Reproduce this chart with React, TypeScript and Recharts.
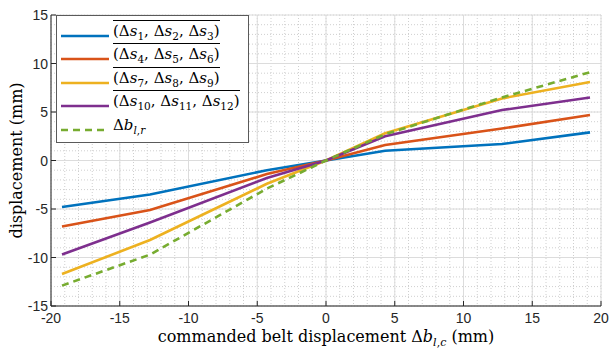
import React from 'react';
import { LineChart, Line, XAxis, YAxis, CartesianGrid, Legend } from 'recharts';

// commanded belt displacement (mm)
const xCmd = [-19.2, -12.8, -4.3, 0, 4.3, 12.8, 19.2];
// measured displacements (mm), averaged over groups of sensors
const s123 = [-4.8, -3.5, -1.0, 0, 1.0, 1.7, 2.9];
const s456 = [-6.8, -5.1, -1.4, 0, 1.6, 3.3, 4.7];
const s789 = [-11.7, -8.2, -2.4, 0, 2.8, 6.4, 8.1];
const s101112 = [-9.7, -6.4, -1.8, 0, 2.5, 5.2, 6.5];
const bRef = [-12.9, -9.7, -2.9, 0, 2.7, 6.5, 9.1];

const xTicks = [-20, -15, -10, -5, 0, 5, 10, 15, 20];
const yTicks = [-15, -10, -5, 0, 5, 10, 15];
const xMinor = Array.from({ length: 41 }, (_, i) => i - 20);
const yMinor = Array.from({ length: 31 }, (_, i) => i - 15);

const data = xCmd.map((x, i) => ({
  x,
  s123: s123[i],
  s456: s456[i],
  s789: s789[i],
  s101112: s101112[i],
  bRef: bRef[i],
}));

const order = ['s123', 's456', 's789', 's101112', 'bRef'];

const AXIS = '#262626';
const SERIF = 'DejaVu Serif, Liberation Serif, serif';
const SANS = 'Liberation Sans, Arial, sans-serif';

const S = ({ n }: { n: string }) => (
  <span>
    Δ<i>s</i>
    <sub style={{ fontSize: '0.7em' }}>{n}</sub>
  </span>
);

const Bar = ({ a, b, c }: { a: string; b: string; c: string }) => (
  <span style={{ display: 'inline-block', borderTop: '1px solid #000', paddingTop: 1, lineHeight: '18px' }}>
    (<S n={a} />, <S n={b} />, <S n={c} />)
  </span>
);

const legendLabels: Record<string, React.ReactNode> = {
  s123: <Bar a="1" b="2" c="3" />,
  s456: <Bar a="4" b="5" c="6" />,
  s789: <Bar a="7" b="8" c="9" />,
  s101112: <Bar a="10" b="11" c="12" />,
  bRef: (
    <span style={{ lineHeight: '18px' }}>
      Δ<i>b</i>
      <sub style={{ fontSize: '0.7em' }}>
        <i>l</i>,<i>r</i>
      </sub>
    </span>
  ),
};

const LegendBox = (props: any) => {
  const payload = props.payload || [];
  const items = order
    .map((k) => payload.find((e: any) => e.dataKey === k))
    .filter(Boolean);
  return (
    <div
      style={{
        background: '#fff',
        border: '1px solid #5a5a5a',
        width: 193,
        height: 128,
        boxSizing: 'border-box',
        padding: '5px 0 0 4px',
        fontFamily: SERIF,
        fontSize: 15,
        color: '#000',
      }}
    >
      {items.map((e: any) => (
        <div key={e.dataKey} style={{ display: 'flex', alignItems: 'flex-end', height: 23.5 }}>
          <svg width={48} height={10} style={{ marginRight: 4, marginBottom: 4 }}>
            <line
              x1={0}
              y1={5}
              x2={48}
              y2={5}
              stroke={e.color}
              strokeWidth={2.6}
              strokeDasharray={e.payload && e.payload.strokeDasharray}
            />
          </svg>
          <span>{legendLabels[e.dataKey]}</span>
        </div>
      ))}
    </div>
  );
};

const XTick = (props: any) => {
  const { x, y, payload } = props;
  const axisY = y - 4;
  return (
    <g>
      <line x1={x} y1={axisY} x2={x} y2={axisY - 5} stroke={AXIS} strokeWidth={1} />
      <text x={x} y={axisY + 17} textAnchor="middle" fontFamily={SANS} fontSize={14} fill={AXIS}>
        {payload.value}
      </text>
    </g>
  );
};

const YTick = (props: any) => {
  const { x, y, payload } = props;
  const axisX = x + 4;
  return (
    <g>
      <line x1={axisX} y1={y} x2={axisX + 5} y2={y} stroke={AXIS} strokeWidth={1} />
      <text x={axisX - 3} y={y + 5} textAnchor="end" fontFamily={SANS} fontSize={14} fill={AXIS}>
        {payload.value}
      </text>
    </g>
  );
};

const XLabel = (props: any) => {
  const { viewBox } = props;
  const cx = viewBox.x + viewBox.width / 2;
  return (
    <text x={cx} y={viewBox.y + 36} textAnchor="middle" fontFamily={SERIF} fontSize={16} fill="#000">
      commanded belt displacement Δ<tspan fontStyle="italic">b</tspan>
      <tspan dy={4} fontSize={11} fontStyle="italic">l</tspan>
      <tspan fontSize={11}>,</tspan>
      <tspan fontSize={11} fontStyle="italic">c</tspan>
      <tspan dy={-4}> (mm)</tspan>
    </text>
  );
};

const YLabel = (props: any) => {
  const { viewBox } = props;
  const cy = viewBox.y + viewBox.height / 2;
  const lx = 22;
  return (
    <text
      x={lx}
      y={cy}
      textAnchor="middle"
      transform={`rotate(-90, ${lx}, ${cy})`}
      fontFamily={SERIF}
      fontSize={16}
      fill="#000"
    >
      displacement (mm)
    </text>
  );
};

export default function App() {
  return (
    <div style={{ position: 'absolute', left: 0, top: 0, width: 612, height: 350, background: '#fff' }}>
      <LineChart width={612} height={350} data={data} margin={{ top: 15, right: 11, bottom: 0, left: 0 }}>
        <CartesianGrid
          stroke="#cfcfcf"
          strokeDasharray="1 2"
          verticalValues={xMinor}
          horizontalValues={yMinor}
        />
        <CartesianGrid stroke="#dcdcdc" verticalValues={xTicks} horizontalValues={yTicks} />
        <XAxis
          dataKey="x"
          type="number"
          domain={[-20, 20]}
          ticks={xTicks}
          interval={0}
          height={44}
          tickSize={0}
          tickMargin={4}
          tickLine={false}
          axisLine={{ stroke: AXIS, strokeWidth: 1 }}
          tick={<XTick />}
          label={<XLabel />}
        />
        <YAxis
          type="number"
          domain={[-15, 15]}
          ticks={yTicks}
          interval={0}
          width={51}
          tickSize={0}
          tickMargin={4}
          tickLine={false}
          axisLine={{ stroke: AXIS, strokeWidth: 1 }}
          tick={<YTick />}
          label={<YLabel />}
        />
        <Legend
          layout="vertical"
          align="center"
          verticalAlign="middle"
          content={<LegendBox />}
          wrapperStyle={{ left: 56, top: 15, width: 193, height: 128 }}
        />
        <Line dataKey="s123" stroke="#0072BD" strokeWidth={2.6} dot={false} isAnimationActive={false} />
        <Line dataKey="s456" stroke="#D95319" strokeWidth={2.6} dot={false} isAnimationActive={false} />
        <Line dataKey="s789" stroke="#EDB120" strokeWidth={2.6} dot={false} isAnimationActive={false} />
        <Line dataKey="s101112" stroke="#7E2F8E" strokeWidth={2.6} dot={false} isAnimationActive={false} />
        <Line
          dataKey="bRef"
          stroke="#77AC30"
          strokeWidth={2.6}
          strokeDasharray="7 5"
          dot={false}
          isAnimationActive={false}
        />
      </LineChart>
    </div>
  );
}
